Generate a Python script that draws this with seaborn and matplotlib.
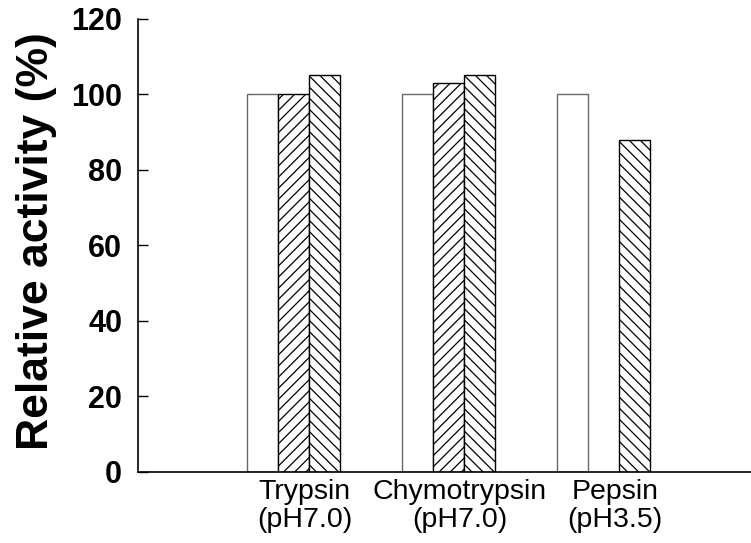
import numpy as np
import pandas as pd
import seaborn as sns
import matplotlib
matplotlib.use("Agg")
import matplotlib.pyplot as plt

# ---- data ----
enzymes = ["Trypsin\n(pH7.0)", "Chymotrypsin\n(pH7.0)", "Pepsin\n(pH3.5)"]
series = ["Series 1", "Series 2", "Series 3"]
series1 = [100, 100, 100]
series2 = [100, 103, np.nan]
series3 = [105, 105, 88]
yticks = [0, 20, 40, 60, 80, 100, 120]

rows = []
for name, vals in zip(series, [series1, series2, series3]):
    for e, v in zip(enzymes, vals):
        rows.append({"enzyme": e, "series": name, "activity": v})
df = pd.DataFrame(rows)

sns.set_style("ticks")
plt.rcParams["font.family"] = ["Liberation Sans", "DejaVu Sans"]
plt.rcParams["hatch.linewidth"] = 0.9
plt.rcParams["text.color"] = "black"
plt.rcParams["axes.labelcolor"] = "black"
plt.rcParams["xtick.color"] = "black"
plt.rcParams["ytick.color"] = "black"
plt.rcParams["xtick.labelcolor"] = "black"
plt.rcParams["ytick.labelcolor"] = "black"

fig = plt.figure(figsize=(7.51, 5.43), dpi=100)
ax = fig.add_axes([138 / 751, (543 - 471.7) / 543, (759 - 138) / 751, (471.7 - 18.8) / 543])

sns.barplot(data=df, x="enzyme", y="activity", hue="series", order=enzymes,
            hue_order=series, palette=["white", "white", "white"], width=0.6,
            linewidth=1.0, edgecolor="black", legend=False, ax=ax)

hatches = [None, "///", "\\\\\\"]
edges = ["#666666", "black", "black"]
for cont, h, ec in zip(ax.containers, hatches, edges):
    for p in cont.patches:
        p.set_facecolor("white")
        p.set_edgecolor(ec)
        if h:
            p.set_hatch(h)

ax.set_xlim(-1, 3)
ax.set_ylim(0, 120)
ax.set_yticks(yticks)
ax.set_yticklabels([str(t) for t in yticks], fontsize=22, fontweight="bold", color="black")
ax.tick_params(axis="y", direction="in", length=7.2, width=1, pad=11.5, color="black")
ax.set_xticks(np.arange(len(enzymes)) + 0.074)
ax.set_xticklabels(enzymes, fontsize=20.5, linespacing=1.12, color="black")
ax.tick_params(axis="x", length=0, pad=5)
ax.set_xlabel("")
ax.set_ylabel("Relative activity (%)", fontsize=32, fontweight="bold", color="black")
ax.yaxis.set_label_coords(-0.13, 0.51)

for s in ["top", "right"]:
    ax.spines[s].set_visible(False)
for s in ["left", "bottom"]:
    ax.spines[s].set_linewidth(1.2)
    ax.spines[s].set_color("black")

fig.savefig("out.png", dpi=100)
